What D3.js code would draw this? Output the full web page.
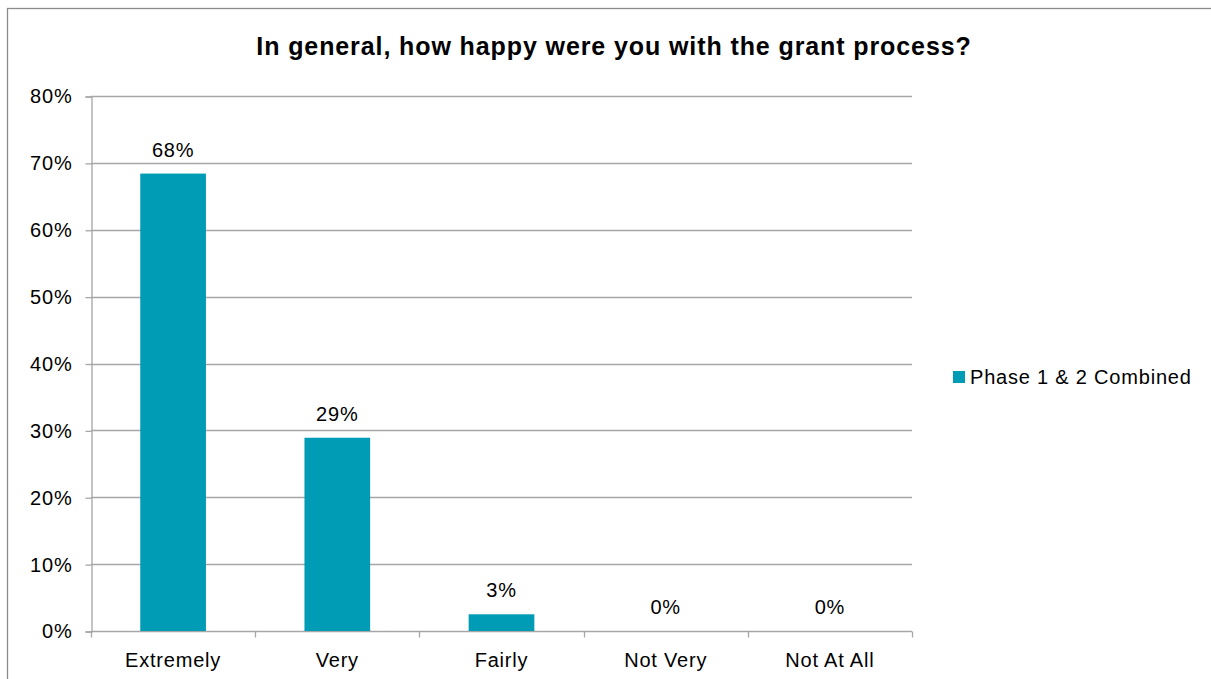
<!DOCTYPE html>
<html>
<head>
<meta charset="utf-8">
<script src="https://cdn.jsdelivr.net/npm/d3@7"></script>
<style>
  body { margin: 0; background: #fff; }
  text { font-family: 'Liberation Sans', Arial, sans-serif; fill: #000; letter-spacing: 0.8px; }
  .grid line { stroke: #a6a6a6; stroke-width: 1.3; }
  .axis path, .axis line { stroke: #a6a6a6; stroke-width: 1.3; }
</style>
</head>
<body>
<div id="chart"></div>
<script>
// data
var categories = ['Extremely', 'Very', 'Fairly', 'Not Very', 'Not At All']
var values = [0.684, 0.289, 0.025, 0, 0]
var valueLabels = ['68%', '29%', '3%', '0%', '0%']
var yTicks = [0, 0.1, 0.2, 0.3, 0.4, 0.5, 0.6, 0.7, 0.8]
var seriesName = 'Phase 1 & 2 Combined'
var title = 'In general, how happy were you with the grant process?'

var width = 1211, height = 679
var margin = {top: 96, left: 91, right: 299, bottom: 48}
var barColor = '#009cb5'

var svg = d3.select('#chart')
  .append('svg')
    .attr('width', width)
    .attr('height', height)

// outer chart border
svg.append('rect')
  .attr('x', 7.5)
  .attr('y', 8.5)
  .attr('width', width + 10)
  .attr('height', height + 10)
  .attr('fill', '#fff')
  .attr('stroke', '#8c8c8c')
  .attr('stroke-width', 1.3)

svg.append('text')
  .attr('x', 614)
  .attr('y', 55)
  .attr('text-anchor', 'middle')
  .style('font-size', '25px')
  .style('font-weight', 'bold')
  .style('letter-spacing', '0.9px')
  .text(title)

var x = d3.scaleBand()
  .domain(categories)
  .range([margin.left, width - margin.right])
  .paddingInner(0.6)
  .paddingOuter(0.3)

var xEdges = d3.scaleBand().domain(categories).range([margin.left, width - margin.right])

var y = d3.scaleLinear()
  .domain([0, 0.8])
  .range([height - margin.bottom, margin.top])

// gridlines
svg.append('g')
  .attr('class', 'grid')
  .selectAll('line')
  .data(yTicks.slice(1))
  .enter().append('line')
    .attr('x1', margin.left)
    .attr('x2', width - margin.right)
    .attr('y1', function(d) { return Math.round(y(d)) + 0.5 })
    .attr('y2', function(d) { return Math.round(y(d)) + 0.5 })

// y axis
var yAxis = svg.append('g')
  .attr('class', 'axis axis--y')
  .attr('transform', 'translate(' + (margin.left + 0.5) + ',0.5)')
  .call(d3.axisLeft(y).tickValues(yTicks).tickFormat(d3.format('.0%')).tickSize(6).tickPadding(13))
yAxis.selectAll('text').style('font-size', '20px')

// x axis, ticks at band edges
var xg = svg.append('g')
  .attr('class', 'axis axis--x')
  .attr('transform', 'translate(0,' + (Math.round(y(0)) + 0.5) + ')')
xg.append('line')
  .attr('x1', margin.left).attr('x2', width - margin.right)
var edges = categories.map(function(c) { return xEdges(c) }).concat([width - margin.right])
xg.selectAll('.edge')
  .data(edges)
  .enter().append('line')
    .attr('class', 'edge')
    .attr('x1', function(d) { return Math.round(d) + 0.5 })
    .attr('x2', function(d) { return Math.round(d) + 0.5 })
    .attr('y1', 0).attr('y2', 6)
xg.selectAll('.lbl')
  .data(categories)
  .enter().append('text')
    .attr('class', 'lbl')
    .attr('x', function(d) { return xEdges(d) + xEdges.bandwidth() / 2 })
    .attr('y', 35)
    .attr('text-anchor', 'middle')
    .style('font-size', '20px')
    .text(function(d) { return d })

// bars
svg.selectAll('.bar')
  .data(values)
  .enter().append('rect')
    .attr('class', 'bar')
    .attr('x', function(d, i) { return x(categories[i]) })
    .attr('width', x.bandwidth())
    .attr('y', function(d) { return y(d) })
    .attr('height', function(d) { return y(0) - y(d) })
    .attr('fill', barColor)

// value labels
svg.selectAll('.val')
  .data(values)
  .enter().append('text')
    .attr('class', 'val')
    .attr('x', function(d, i) { return x(categories[i]) + x.bandwidth() / 2 })
    .attr('y', function(d) { return y(d) - 17 })
    .attr('text-anchor', 'middle')
    .style('font-size', '20px')
    .text(function(d, i) { return valueLabels[i] })

// legend
var legend = svg.append('g').attr('transform', 'translate(953,371)')
legend.append('rect')
  .attr('width', 12).attr('height', 12)
  .attr('fill', barColor)
legend.append('text')
  .attr('x', 17)
  .attr('y', 13)
  .style('font-size', '20px')
  .text(seriesName)
</script>
</body>
</html>
